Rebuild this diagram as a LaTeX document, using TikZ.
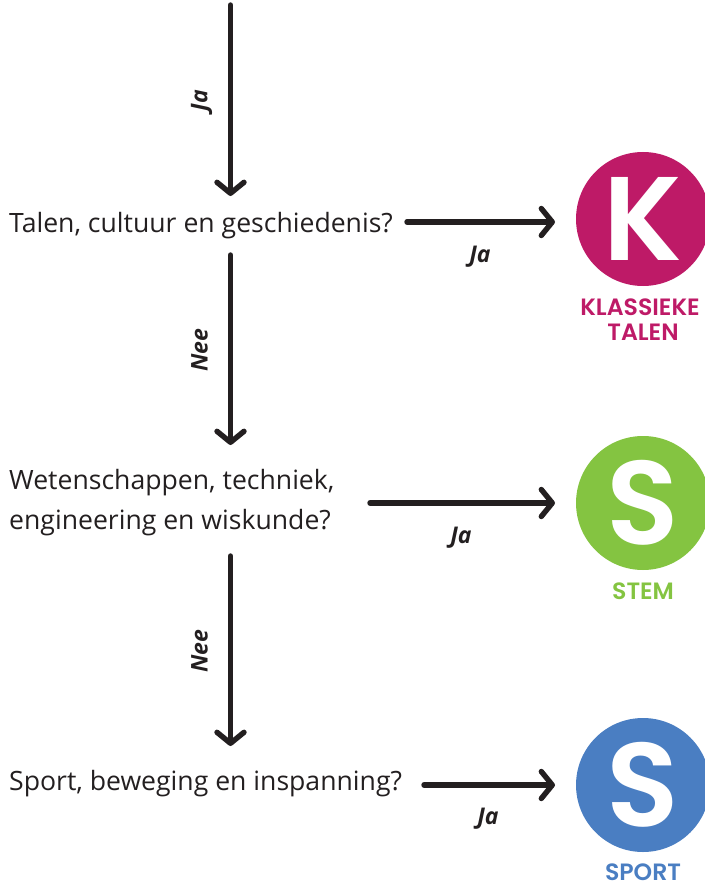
\documentclass[tikz,border=0pt]{standalone}
\usepackage{fontspec}
\setmainfont{Open Sans}
\newfontfamily\capfont{Poppins SemiBold}
\usetikzlibrary{arrows.meta}
\definecolor{ink}{HTML}{231F20}
\definecolor{kcol}{HTML}{BE1A67}
\definecolor{scol}{HTML}{84C441}
\definecolor{bcol}{HTML}{4A7EC2}
\tikzset{
  conn/.style={draw=ink,line width=5.4pt,line cap=round,-{Straight Barb[length=11pt,width=27pt,round,line width=5.4pt]}},
  question/.style={anchor=base west,inner sep=0pt,text=ink,font=\fontsize{26.6pt}{40pt}\selectfont,align=left},
  answer/.style={inner sep=0pt,text=ink,font=\fontsize{23pt}{25pt}\selectfont\bfseries\itshape},
  badge/.style={circle,minimum size=134pt,inner sep=0pt,text=white,font=\capfont\fontsize{119pt}{119pt}\selectfont},
  caption/.style={inner sep=0pt,align=center,font=\capfont\fontsize{23.6pt}{25pt}\selectfont}
}
\begin{document}
\begin{tikzpicture}[x=1pt,y=-1pt]
\useasboundingbox (0,0) rectangle (704,882);
\node[question] (q1) at (9,233) {Talen, cultuur en geschiedenis?};
\node[question,anchor=north west] (q2) at (9,469) {Wetenschappen, techniek,\\engineering en wiskunde?};
\node[question] (q3) at (9,790) {Sport, beweging en inspanning?};
\node[badge,fill=kcol] (k) at (643,219) {K};
\node[badge,fill=scol] (s1) at (643,503) {S};
\node[badge,fill=bcol] (s2) at (643,785) {S};
\node[caption,text=kcol] (kc) at (640,320) {KLASSIEKE\\\hspace*{6pt}TALEN};
\node[caption,text=scol] (sc) at (643,591) {STEM};
\node[caption,text=bcol] (bc) at (643,872) {SPORT};
\coordinate (a0) at (230.5,5);
\coordinate (a1) at (230.5,196);
\coordinate (b0) at (230.5,255);
\coordinate (b1) at (230.5,445);
\coordinate (c0) at (230.5,556);
\coordinate (c1) at (230.5,746);
\coordinate (d0) at (407,222);
\coordinate (d1) at (555,222);
\coordinate (e0) at (370,503);
\coordinate (e1) at (555,503);
\coordinate (f0) at (424,785);
\coordinate (f1) at (555,785);
\draw[conn] (a0) -- node[answer,pos=.5,rotate=90,yshift=29pt] (la) {Ja} (a1);
\draw[conn] (b0) -- node[answer,pos=.5,rotate=90,yshift=31pt] (lb) {Nee} (b1);
\draw[conn] (c0) -- node[answer,pos=.5,rotate=90,yshift=31pt] (lc) {Nee} (c1);
\draw[conn] (d0) -- (d1);
\draw[conn] (e0) -- (e1);
\draw[conn] (f0) -- (f1);
\node[answer] (ld) at (480,257) {Ja};
\node[answer] (le) at (461,538) {Ja};
\node[answer] (lf) at (488,819) {Ja};
\end{tikzpicture}
\end{document}
